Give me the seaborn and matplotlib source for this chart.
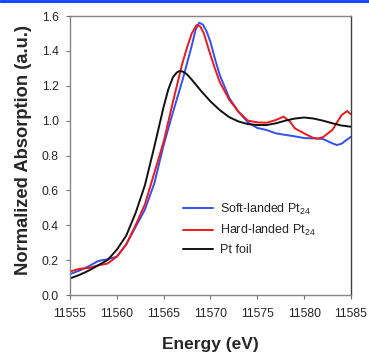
import pandas as pd
import matplotlib.pyplot as plt
import seaborn as sns
from matplotlib.lines import Line2D

# Datos (XANES Pt L3)
soft_e = [11555, 11556, 11557, 11558, 11559, 11560, 11561, 11562, 11563, 11564,
          11565, 11566, 11567, 11567.5, 11568, 11568.4, 11568.8, 11569.2, 11569.6, 11570,
          11570.5, 11571, 11572, 11573, 11574, 11575, 11576, 11577, 11578, 11579,
          11580, 11581, 11582, 11583, 11583.5, 11584, 11585]
soft_mu = [0.12, 0.14, 0.165, 0.195, 0.205, 0.22, 0.29, 0.39, 0.49, 0.64,
           0.86, 1.05, 1.23, 1.33, 1.43, 1.52, 1.562, 1.55, 1.51, 1.45,
           1.35, 1.26, 1.13, 1.05, 0.99, 0.958, 0.946, 0.927, 0.918, 0.91,
           0.90, 0.898, 0.895, 0.87, 0.86, 0.868, 0.908]

hard_e = [11555, 11556, 11557, 11558, 11559, 11560, 11561, 11562, 11563, 11564,
          11565, 11566, 11567, 11567.5, 11568, 11568.5, 11568.9, 11569.3, 11569.8, 11570.4,
          11571, 11572, 11573, 11574, 11575, 11576, 11577, 11577.8, 11578.5, 11579,
          11580, 11581, 11581.5, 11582, 11583, 11584, 11584.6, 11585]
hard_mu = [0.135, 0.15, 0.155, 0.17, 0.18, 0.22, 0.29, 0.40, 0.52, 0.70,
           0.88, 1.11, 1.33, 1.42, 1.50, 1.548, 1.54, 1.50, 1.41, 1.31,
           1.22, 1.12, 1.05, 1.0, 0.99, 0.988, 1.004, 1.023, 0.994, 0.956,
           0.927, 0.90, 0.898, 0.905, 0.946, 1.032, 1.055, 1.036]

foil_e = [11555, 11556, 11557, 11558, 11559, 11560, 11561, 11562, 11563, 11564,
          11565, 11565.5, 11566, 11566.4, 11566.7, 11567.1, 11567.5, 11568, 11569, 11570,
          11571, 11572, 11573, 11574, 11575, 11576, 11577, 11578, 11579, 11580,
          11581, 11582, 11583, 11584, 11585]
foil_mu = [0.095, 0.115, 0.14, 0.17, 0.20, 0.26, 0.34, 0.47, 0.63, 0.85,
           1.08, 1.18, 1.25, 1.276, 1.285, 1.28, 1.265, 1.235, 1.17, 1.11,
           1.06, 1.02, 0.995, 0.98, 0.975, 0.975, 0.985, 1.0, 1.012, 1.018,
           1.012, 1.0, 0.985, 0.972, 0.965]

labels = ['Soft-landed Pt$_{24}$', 'Hard-landed Pt$_{24}$', 'Pt foil']
colores = ['#3050f5', '#f01818', '#111111']

x_ticks = [11555, 11560, 11565, 11570, 11575, 11580, 11585]
y_ticks = [0.0, 0.2, 0.4, 0.6, 0.8, 1.0, 1.2, 1.4, 1.6]

sns.set_style('ticks')
plt.rcParams['font.family'] = ['Liberation Sans', 'DejaVu Sans']
plt.rcParams['mathtext.default'] = 'regular'

fig = plt.figure(figsize=(3.69, 3.52), dpi=100)
ax = fig.add_axes([0.1897, 0.1619, 0.7615, 0.7926])

series = [(soft_e, soft_mu), (hard_e, hard_mu), (foil_e, foil_mu)]
for (e, mu), lab, c in zip(series, labels, colores):
    df = pd.DataFrame({'Energy': e, 'mu': mu})
    sns.lineplot(data=df, x='Energy', y='mu', ax=ax, color=c, lw=1.4,
                 sort=False, label=lab)

ax.set_xlim(11555, 11585)
ax.set_ylim(0, 1.6)
ax.set_xticks(x_ticks)
ax.set_xticklabels([str(t) for t in x_ticks])
ax.set_yticks(y_ticks)
ax.set_yticklabels([f'{t:.1f}' for t in y_ticks])

for s in ['left', 'bottom', 'top']:
    ax.spines[s].set_color('#858585')
    ax.spines[s].set_linewidth(1.0)
ax.spines['right'].set_color('#404040')
ax.spines['right'].set_linewidth(1.0)
ax.tick_params(direction='out', length=3, width=0.8, color='#707070',
               labelsize=8.8)
ax.tick_params(axis='x', pad=6)
ax.tick_params(axis='y', pad=5)

ax.set_xlabel('Energy (eV)', fontsize=12.5, fontweight='bold')
ax.set_ylabel('Normalized Absorption (a.u.)', fontsize=13.2, fontweight='bold')
ax.xaxis.set_label_coords(0.5, -0.15)
ax.yaxis.set_label_coords(-0.135, 0.518)

ax.legend(loc='upper left', bbox_to_anchor=(0.402, 0.335), frameon=False,
          fontsize=9, handlelength=2.4, handletextpad=0.6, labelspacing=0.5,
          borderpad=0, borderaxespad=0)

# linea azul del borde superior
fig.add_artist(Line2D([0, 1], [0.997, 0.997], transform=fig.transFigure,
                      color='#0a3cff', lw=2))

plt.savefig('out.png', dpi=100)
